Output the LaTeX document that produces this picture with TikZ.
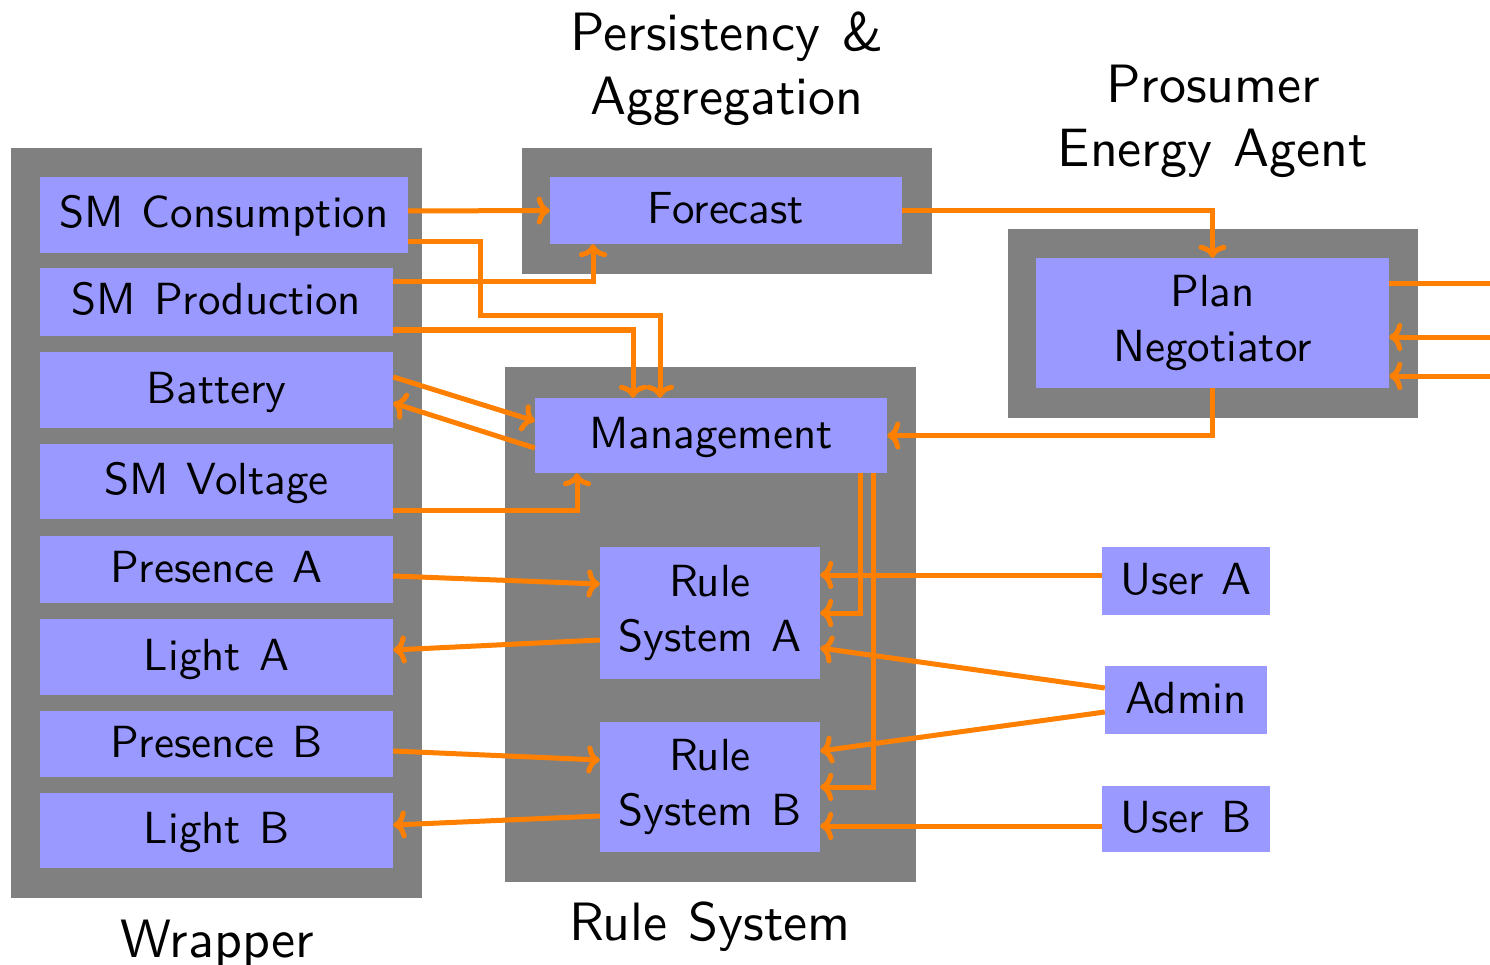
\documentclass[tikz,border=0pt]{standalone}
\usepackage{fontspec}
\setsansfont{lmsans10-regular}[Extension=.otf]
\usetikzlibrary{arrows.meta}
\definecolor{grpgray}{HTML}{808080}
\definecolor{blkblue}{HTML}{9999FF}
\definecolor{linkorange}{HTML}{FF8000}
\newcommand{\widespaces}[1]{\spaceskip=#1\relax}
\tikzset{
  grp/.style={fill=grpgray, draw=none, inner sep=0pt},
  blk/.style={fill=blkblue, draw=none, inner sep=0pt,
    font=\sffamily\fontsize{45}{55}\selectfont,
    execute at begin node={\widespaces{0.4em}}},
  oneline/.style={blk, text height=35pt, text depth=9pt},
  twoline/.style={blk, align=center},
  title/.style={font=\sffamily\fontsize{54}{64}\selectfont, inner sep=0pt,
    execute at begin node={\widespaces{0.4em}}},
  link/.style={draw=linkorange, line width=5pt,
    -{Computer Modern Rightarrow[length=13pt,width=28pt]}}
}
\begin{document}
\begin{tikzpicture}[x=1pt,y=-1pt]
\useasboundingbox (0,0) rectangle (1490,965);
\clip (0,0) rectangle (1490,965);

% grey containers
\node[grp, minimum width=411pt, minimum height=750pt] (wrap) at (216.5,523) {};
\node[grp, minimum width=410pt, minimum height=126pt] (pers) at (727,211) {};
\node[grp, minimum width=411pt, minimum height=515pt] (rules) at (710.5,624.5) {};
\node[grp, minimum width=410pt, minimum height=189pt] (pea) at (1213,323.5) {};

% group titles
\node[title, align=center] (perst) at (727,69) {Persistency \&\\Aggregation};
\node[title, align=center] (peat) at (1213,121) {Prosumer\\Energy Agent};
\node[title, anchor=base] (wrapt) at (217,957) {Wrapper};
\node[title, anchor=base] (rulest) at (710,940) {Rule System};

% wrapper blocks
\node[oneline, minimum width=368pt, minimum height=76pt] (smc) at (224,215) {SM Consumption};
\node[oneline, minimum width=353pt, minimum height=68pt] (smp) at (216.5,302) {SM Production};
\node[oneline, minimum width=353pt, minimum height=76pt] (bat) at (216.5,390) {Battery};
\node[oneline, minimum width=353pt, minimum height=75pt] (smv) at (216.5,481.5) {SM Voltage};
\node[oneline, minimum width=353pt, minimum height=67pt] (presA) at (216.5,569.5) {Presence A};
\node[oneline, minimum width=353pt, minimum height=76pt] (lightA) at (216.5,657) {Light A};
\node[oneline, minimum width=353pt, minimum height=66pt] (presB) at (216.5,744) {Presence B};
\node[oneline, minimum width=353pt, minimum height=75pt] (lightB) at (216.5,830.5) {Light B};

% persistency and rule system blocks
\node[oneline, minimum width=352pt, minimum height=67pt] (fc) at (726,210.5) {Forecast};
\node[oneline, minimum width=352pt, minimum height=75pt] (mgmt) at (711,435.5) {Management};
\node[twoline, minimum width=220pt, minimum height=132pt] (ruleA) at (710,613) {Rule\\System A};
\node[twoline, minimum width=220pt, minimum height=130pt] (ruleB) at (710,787) {Rule\\System B};

% prosumer agent
\node[twoline, minimum width=353pt, minimum height=130pt] (pn) at (1212.5,323) {Plan\\Negotiator};

% users
\node[oneline, minimum width=168pt, minimum height=68pt] (userA) at (1186,581) {User A};
\node[oneline, minimum width=162pt, minimum height=68pt] (admin) at (1186,700) {Admin};
\node[oneline, minimum width=168pt, minimum height=66pt] (userB) at (1186,819) {User B};

% free ends beyond the right border
\coordinate (extout) at (1515,284);
\coordinate (extin1) at (1500,337);
\coordinate (extin2) at (1500,376);

% wrapper to persistency / management
\draw[link] ([yshift=4pt]smc.east) -- (fc.west);
\draw[link] ([yshift=-27pt]smc.east) -| (480,316) -| ([xshift=-51pt]mgmt.north);
\draw[link] ([yshift=20pt]smp.east) -| ([xshift=-133pt]fc.south);
\draw[link] ([yshift=-28pt]smp.east) -| ([xshift=-78pt]mgmt.north);
\draw[link] ([yshift=13pt]bat.east) -- ([yshift=14.5pt]mgmt.west);
\draw[link] ([yshift=-12.5pt]mgmt.west) -- ([yshift=-13pt]bat.east);
\draw[link] ([yshift=-28.5pt]smv.east) -| ([xshift=-134pt]mgmt.south);

% wrapper to rule systems
\draw[link] ([yshift=-6.5pt]presA.east) -- ([yshift=29pt]ruleA.west);
\draw[link] ([yshift=-27pt]ruleA.west) -- ([yshift=7pt]lightA.east);
\draw[link] ([yshift=-7pt]presB.east) -- ([yshift=27pt]ruleB.west);
\draw[link] ([yshift=-29pt]ruleB.west) -- ([yshift=5.5pt]lightB.east);

% forecast, negotiator, management
\draw[link] (fc.east) -| (pn.north);
\draw[link] (pn.south) |- (mgmt.east);
\draw[link] ([xshift=149pt]mgmt.south) |- (ruleA.east);
\draw[link] ([xshift=162pt]mgmt.south) |- (ruleB.east);

% users and admin
\draw[link] ([yshift=6pt]userA.west) -- ([yshift=38pt]ruleA.east);
\draw[link] ([yshift=12pt]admin.west) -- ([yshift=-35pt]ruleA.east);
\draw[link] ([yshift=-12pt]admin.west) -- ([yshift=36pt]ruleB.east);
\draw[link] ([yshift=-7pt]userB.west) -- ([yshift=-39pt]ruleB.east);

% negotiator links leaving the picture
\draw[link] ([yshift=39pt]pn.east) -- (extout);
\draw[link] (extin1) -- ([yshift=-14pt]pn.east);
\draw[link] (extin2) -- ([yshift=-53pt]pn.east);
\end{tikzpicture}
\end{document}
